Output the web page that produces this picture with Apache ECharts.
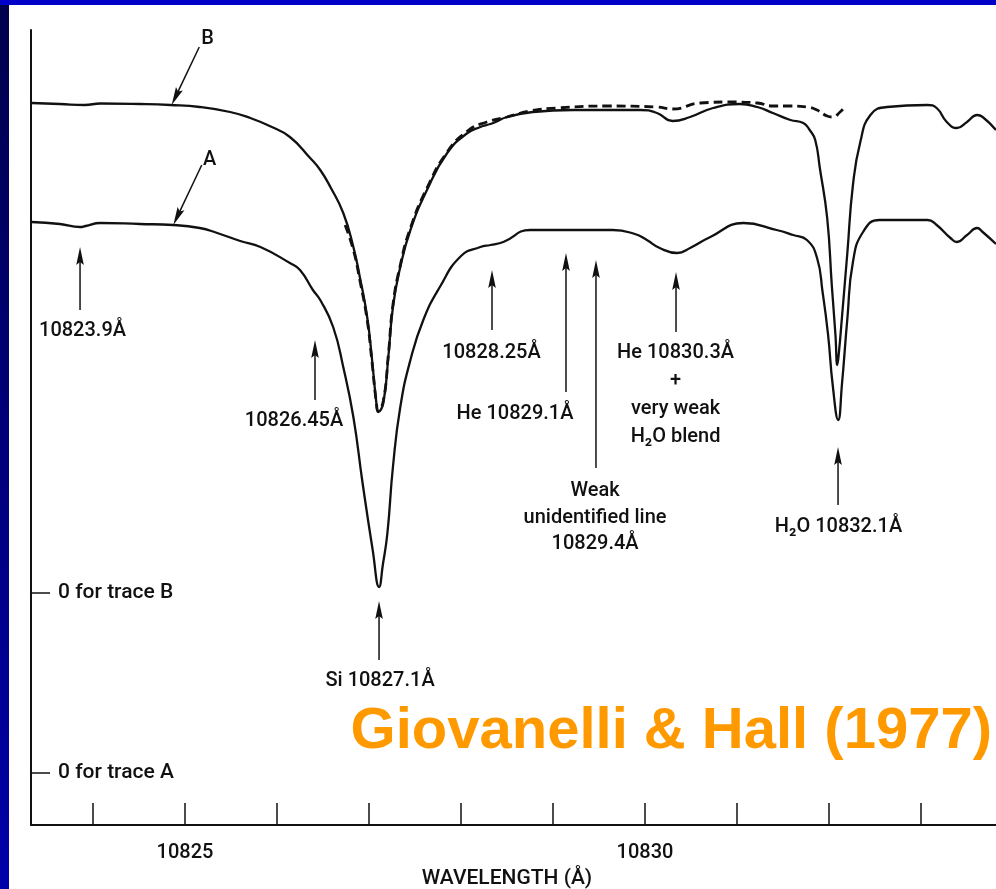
<!DOCTYPE html>
<html><head><meta charset="utf-8">
<script src="https://cdn.jsdelivr.net/npm/echarts@6/dist/echarts.min.js"></script>
<style>html,body{margin:0;padding:0;background:#fff}#c{width:996px;height:889px}</style>
</head><body><div id="c"></div>
<script>
// ---- data: wavelength (Å) and intensity above each trace's own zero (arbitrary units)
const traceBWave = [10823.33,10823.64,10823.91,10824.08,10824.51,10824.84,10825.16,10825.49,10825.71,10825.92,10826.14,10826.36,10826.47,10826.58,10826.72,10826.83,10826.90,10826.98,10827.03,10827.08,10827.10,10827.155,10827.21,10827.26,10827.34,10827.45,10827.63,10827.85,10828.07,10828.21,10828.28,10828.35,10828.50,10828.78,10829.22,10829.62,10829.95,10830.13,10830.30,10830.49,10830.74,10831.03,10831.22,10831.39,10831.58,10831.72,10831.79,10831.85,10831.90,10831.98,10832.03,10832.07,10832.09,10832.11,10832.14,10832.20,10832.26,10832.34,10832.45,10832.63,10833.07,10833.17,10833.28,10833.39,10833.50,10833.61,10833.67,10833.815];
const traceBVal  = [490,489,488,489.5,489,488,486,481,475,467,456,435,423,406,380,346,316,276,236,190,181,190,236,286,326,363,403,440,460,466,468,470,476,481,483,483,483,480,472,476,485,489,486,480,473,470,463,453,425,375,308,258,228,243,275,341,408,451,478,486,488,485,471,465,471,478,476,463];

const traceAWave = [10823.33,10823.64,10823.86,10823.92,10824.08,10824.51,10824.87,10825.16,10825.35,10825.60,10825.82,10826.14,10826.25,10826.39,10826.47,10826.61,10826.72,10826.83,10826.93,10827.04,10827.11,10827.15,10827.20,10827.26,10827.34,10827.45,10827.59,10827.77,10828.00,10828.21,10828.32,10828.46,10828.75,10829.11,10829.65,10829.89,10830.02,10830.16,10830.35,10830.49,10830.71,10831.07,10831.43,10831.61,10831.76,10831.87,10831.93,10831.99,10832.04,10832.10,10832.14,10832.20,10832.26,10832.37,10832.55,10833.07,10833.17,10833.32,10833.39,10833.50,10833.61,10833.67,10833.815];
const traceAVal  = [551,549,546,547,550,549,548,545,540,532,526,510,503,483,473,446,406,356,290,223,186,208,240,306,366,413,453,486,517,526,528,531,543,543,543,539,533,525,520,525,536,550,543,538,533,515,481,438,388,353,388,455,511,541,553,553,548,535,531,538,545,541,529];

const dashWave = [10826.74,10826.83,10826.90,10826.98,10827.03,10827.08,10827.10,10827.155,10827.21,10827.26,10827.34,10827.45,10827.63,10827.85,10828.07,10828.28,10828.50,10828.75,10829.04,10829.59,10830.13,10830.30,10830.60,10830.96,10831.22,10831.39,10831.58,10831.76,10831.87,10831.98,10832.04,10832.12,10832.17];
const dashVal  = [368,343,313,273,233,190,182,192,238,288,328,365,405,441,462,471,476,482,485,487,486,484,490,491,490,487,487,486,483,477,476,481,486];

// zero levels of the two traces on the shared vertical axis
const zeroA = 52;
const zeroB = 232;

// axis ticks / labels
const xTicks = [10824,10825,10826,10827,10828,10829,10830,10831,10832,10833];
const xLabels = [10825,10830];
const yLabelText = {A: '0 for trace A', B: '0 for trace B'};
const xName = 'WAVELENGTH (Å)';
const credit = 'Giovanelli & Hall (1977)';

// annotation texts and the wavelengths the arrows point to
const annLines = [
  ['10823.9Å'], ['10826.45Å'], ['10828.25Å'], ['He 10829.1Å'],
  ['Weak','unidentified line','10829.4Å'],
  ['He 10830.3Å','+','very weak','H₂O blend'],
  ['H₂O 10832.1Å'], ['Si 10827.1Å'], ['B'], ['A']
];
const annTipWave = [10823.859,10826.413,10828.337,10829.141,10829.467,10830.337,10832.098,10827.109,10824.855,10824.873];

// ---- layout of annotations (vertical axis units; tail wavelength; text anchor)
const annTipY   = [578,485,555,572,565,553,378,224,720,600];
const annTailW  = [10823.859,10826.413,10828.337,10829.141,10829.467,10830.337,10832.098,10827.109,10825.155,10825.182];
const annTailY  = [515,425,495,433,357,493,320,165,778,660];
const annTextW  = [10823.886,10826.185,10828.332,10828.587,10829.457,10830.332,10832.103,10827.120,10825.245,10825.267];
const annTextY  = [494,404.5,472.5,411,334,472,298,144,786.5,665];
const annGap    = [0,0,0,0,26.5,28,0,0,0,0];

const FONT = '"Roboto", "DejaVu Sans", sans-serif';
const INK = '#111111';

function renderAnno(params, api) {
  const i = params.dataIndex;
  const tail = api.coord([annTailW[i], annTailY[i]]);
  const tip = api.coord([annTipWave[i], annTipY[i]]);
  const dx = tip[0]-tail[0], dy = tip[1]-tail[1];
  const len = Math.hypot(dx, dy);
  const ux = dx/len, uy = dy/len, nx = -uy, ny = ux;
  const L = 18, W = 3.8;
  const bx = tip[0]-ux*L, by = tip[1]-uy*L;
  const children = [
    {type:'line', shape:{x1:tail[0], y1:tail[1], x2:bx+ux*4, y2:by+uy*4}, style:{stroke:INK, lineWidth:1.5}},
    {type:'polygon', shape:{points:[[tip[0],tip[1]],[bx+nx*W,by+ny*W],[bx+ux*3,by+uy*3],[bx-nx*W,by-ny*W]]}, style:{fill:INK}}
  ];
  annLines[i].forEach((t, k) => {
    const p = api.coord([annTextW[i], annTextY[i] - k*annGap[i]]);
    children.push({type:'text', style:{text:t, x:p[0], y:p[1], align:'center', verticalAlign:'middle',
      textAlign:'center', textVerticalAlign:'middle', font:'500 20px ' + FONT, fill:INK}});
  });
  return {type:'group', children};
}

const chart = echarts.init(document.getElementById('c'), null, {renderer:'canvas'});
chart.setOption({
  animation: false,
  backgroundColor: '#ffffff',
  grid: {left:31, right:0, top:30, bottom:64, containLabel:false, outerBoundsMode:'none'},
  xAxis: {
    type:'value', min:10823.326, max:10833.815,
    axisLine:{show:true, onZero:false, lineStyle:{color:INK, width:2}},
    axisTick:{show:true, customValues:xTicks, inside:true, length:22, lineStyle:{color:INK, width:1.5}},
    axisLabel:{show:true, customValues:xLabels, margin:18, color:INK, fontFamily:FONT, fontWeight:500, fontSize:20, formatter:v=>String(v)},
    splitLine:{show:false},
    name:xName, nameLocation:'middle', nameGap:42,
    nameTextStyle:{color:INK, fontFamily:FONT, fontWeight:500, fontSize:21, padding:[0,13,0,0]}
  },
  yAxis: {
    type:'value', min:0, max:795,
    axisLine:{show:true, onZero:false, lineStyle:{color:INK, width:2}},
    axisTick:{show:true, customValues:[zeroA, zeroB], inside:true, length:19, lineStyle:{color:INK, width:1.5}},
    axisLabel:{show:true, customValues:[zeroA, zeroB], inside:true, margin:27, color:INK, fontFamily:FONT, fontWeight:500, fontSize:21,
      formatter:v => (v === zeroB ? yLabelText.B : yLabelText.A)},
    splitLine:{show:false}
  },
  graphic: [
    {type:'rect', shape:{x:0, y:0, width:996, height:5}, style:{fill:'#0000c8'}, z:100},
    {type:'rect', shape:{x:0, y:5, width:9, height:884},
      style:{fill:new echarts.graphic.LinearGradient(0,0,0,1,[{offset:0,color:'#00004c'},{offset:1,color:'#0000aa'}])}, z:100},
    {type:'text', z:100, style:{text:credit, x:992, y:732, align:'right', verticalAlign:'middle', textAlign:'right', textVerticalAlign:'middle',
      font:'bold 58px "Liberation Sans", Arial, sans-serif', fill:'#ff9900'}}
  ],
  series: [
    {type:'line', name:'Trace B', data:traceBWave.map((w,i)=>[w, traceBVal[i]+zeroB]), showSymbol:false, smooth:0.5,
      lineStyle:{color:INK, width:2.3}, z:2},
    {type:'line', name:'Trace A', data:traceAWave.map((w,i)=>[w, traceAVal[i]+zeroA]), showSymbol:false, smooth:0.5,
      lineStyle:{color:INK, width:2.3}, z:2},
    {type:'line', name:'Dashed', data:dashWave.map((w,i)=>[w, dashVal[i]+zeroB]), showSymbol:false, smooth:0.5,
      lineStyle:{color:INK, width:2.8, type:[9,5]}, z:3},
    {type:'custom', name:'Annotations', data:annTipWave.map((w,i)=>[w, annTipY[i]]), renderItem:renderAnno, clip:false, silent:true, z:4}
  ]
});
</script></body></html>
